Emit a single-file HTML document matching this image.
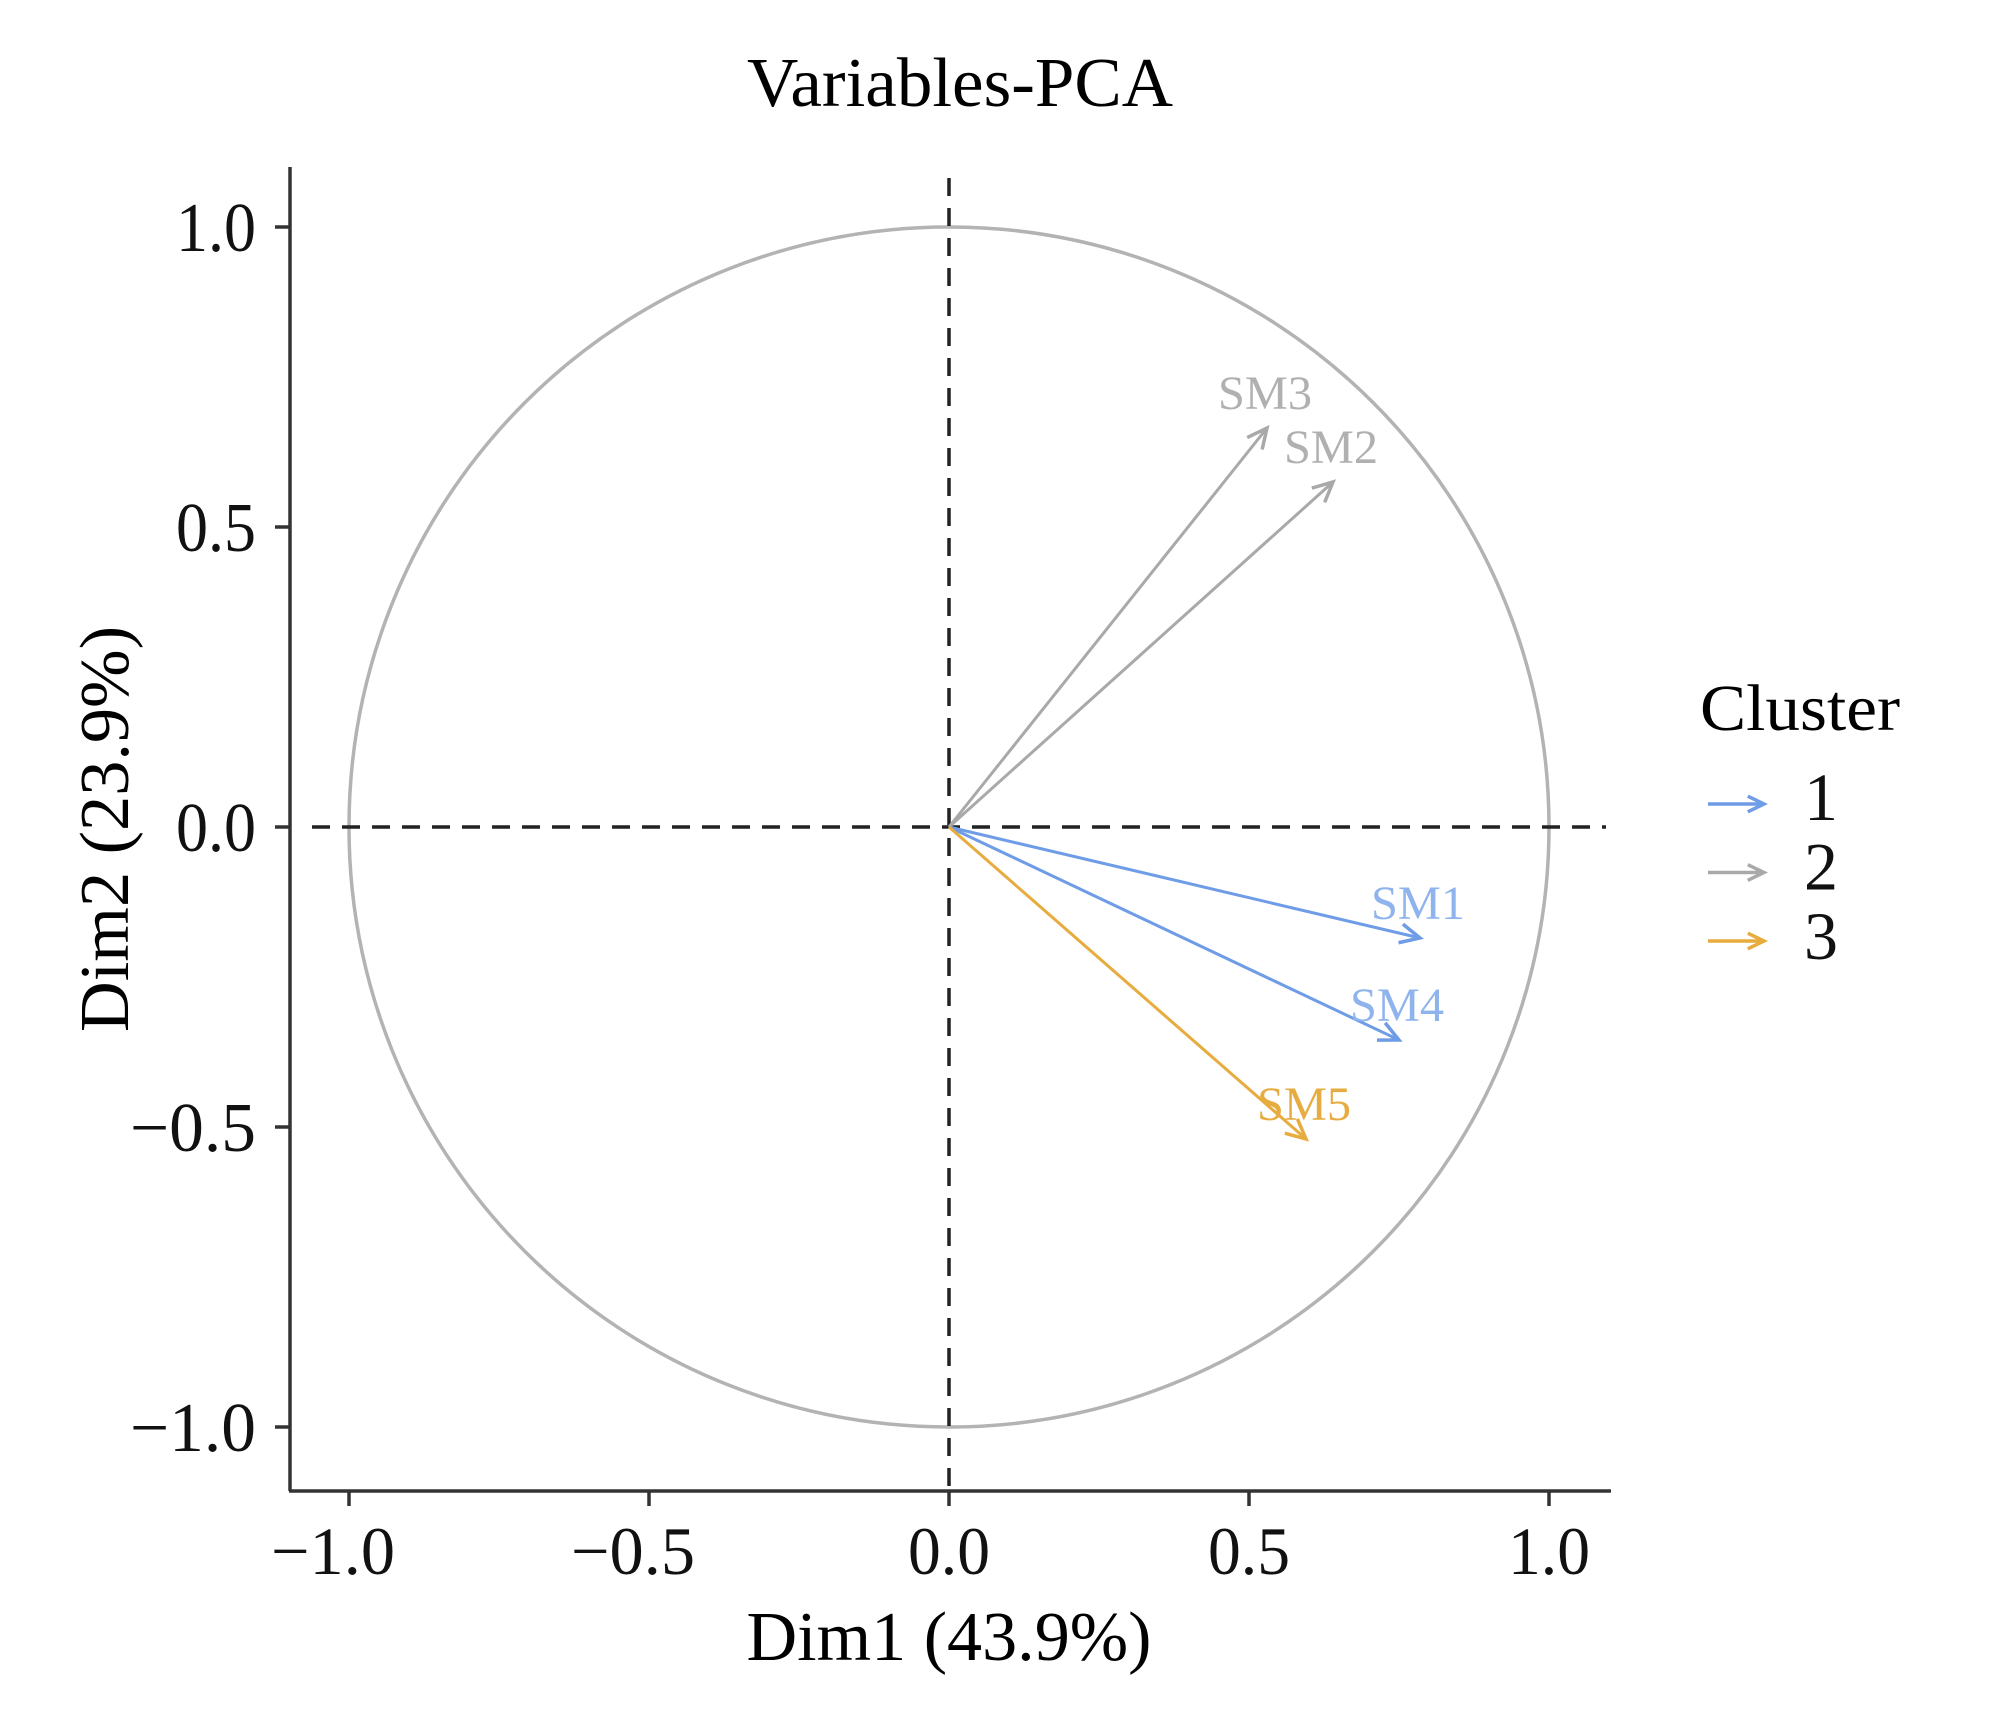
<!DOCTYPE html>
<html><head><meta charset="utf-8"><style>
html,body{margin:0;padding:0;background:#fff;}
svg{display:block;}
text{font-family:"Liberation Serif",serif;}
</style></head><body>
<svg id="chart" width="2000" height="1713" viewBox="0 0 2000 1713" xmlns="http://www.w3.org/2000/svg">
<rect x="0" y="0" width="2000" height="1713" fill="#fff"/>
<text x="960" y="106" font-size="70" text-anchor="middle" textLength="426" lengthAdjust="spacingAndGlyphs">Variables-PCA</text>
<g id="plot"></g>
<text x="949" y="1660" font-size="70" text-anchor="middle" textLength="405" lengthAdjust="spacingAndGlyphs">Dim1 (43.9%)</text>
<text x="0" y="0" font-size="70" text-anchor="middle" textLength="406" lengthAdjust="spacingAndGlyphs" transform="translate(128,829) rotate(-90)">Dim2 (23.9%)</text>
<g>
<text x="1700" y="730" font-size="66" textLength="200" lengthAdjust="spacingAndGlyphs">Cluster</text>
</g>
<g id="legend-items"></g>
</svg>
<script>
const varNames = ["SM1","SM2","SM3","SM4","SM5"];
const dim1 = [0.785, 0.64, 0.53, 0.75, 0.595];
const dim2 = [-0.185, 0.575, 0.665, -0.355, -0.52];
const cluster = [1, 2, 2, 1, 3];
const clusterLabels = ["1","2","3"];
const xTicks = [-1.0, -0.5, 0.0, 0.5, 1.0];
const yTicks = [1.0, 0.5, 0.0, -0.5, -1.0];
const tickText = ["\u22121.0","\u22120.5","0.0","0.5","1.0"];

const NS = "http://www.w3.org/2000/svg";
const X0 = 949, Y0 = 827, U = 600;
const sx = v => X0 + v * U;
const sy = v => Y0 - v * U;
const colors = {1:"#6f9ce6", 2:"#a9a9a9", 3:"#e8ab3e"};
const labelColors = {1:"#8fb3ec", 2:"#b0b0b0", 3:"#e6ac40"};
const plot = document.getElementById("plot");
function mk(tag, attrs, parent){ const e=document.createElementNS(NS,tag); for(const k in attrs) e.setAttribute(k,attrs[k]); (parent||plot).appendChild(e); return e; }

let e = mk("line",{x1:290,y1:167,x2:290,y2:1491,stroke:"#333","stroke-width":3.5});


e = mk("line",{x1:289,y1:1491,x2:1611,y2:1491,stroke:"#333","stroke-width":3.5});



xTicks.forEach((t,i)=>{
  const tk = mk("line",{x1:sx(t),y1:1491,x2:sx(t),y2:1506,stroke:"#333","stroke-width":3.5});
  
  
  const lb = mk("text",{x:sx(t)-(t<0?16:0),y:1574,"font-size":68,"text-anchor":"middle",fill:"#111",textLength:(t<0?124:82),lengthAdjust:"spacingAndGlyphs"});
  lb.textContent = tickText[i];
  
  
});
yTicks.forEach((t)=>{
  const i = xTicks.indexOf(t);
  const tk = mk("line",{x1:275,y1:sy(t),x2:290,y2:sy(t),stroke:"#333","stroke-width":3.5});
  
  
  const lb = mk("text",{x:256,y:sy(t)+24,"font-size":70,"text-anchor":"end",fill:"#111",textLength:(t<0?126:80),lengthAdjust:"spacingAndGlyphs"});
  lb.textContent = tickText[i];
  
  
});

e = mk("circle",{cx:sx(0),cy:sy(0),r:U,fill:"none",stroke:"#b3b3b3","stroke-width":3.5});


e = mk("line",{x1:312,y1:sy(0),x2:1606,y2:sy(0),stroke:"#222","stroke-width":3.5,"stroke-dasharray":"18 12"});


e = mk("line",{x1:sx(0),y1:178,x2:sx(0),y2:1491,stroke:"#222","stroke-width":3.5,"stroke-dasharray":"18 12"});



function arrowHead(x1,y1,x2,y2,col,parent,len){
  const a = Math.atan2(y2-y1,x2-x1);
  const L = len||22, w = 0.45;
  const p = `M${x2-L*Math.cos(a-w)},${y2-L*Math.sin(a-w)} L${x2},${y2} L${x2-L*Math.cos(a+w)},${y2-L*Math.sin(a+w)}`;
  return mk("path",{d:p,fill:"none",stroke:col,"stroke-width":3.5,"stroke-linejoin":"miter"},parent);
}

varNames.forEach((n,i)=>{
  const c = cluster[i];
  const x2 = sx(dim1[i]), y2 = sy(dim2[i]);
  const ln = mk("line",{x1:sx(0),y1:sy(0),x2:x2,y2:y2,stroke:colors[c],"stroke-width":3});
  
  
  const h = arrowHead(sx(0),sy(0),x2,y2,colors[c]);
  
  
  const t = mk("text",{x:x2-2,y:y2-19,"font-size":48,"text-anchor":"middle",fill:labelColors[c],textLength:94,lengthAdjust:"spacingAndGlyphs"});
  t.textContent = n;
  
  
});

const leg = document.getElementById("legend-items");
clusterLabels.forEach((lab,i)=>{
  const c = i+1;
  const y = 804 + i*68.5;
  const ln = mk("line",{x1:1708,y1:y,x2:1764,y2:y,stroke:colors[c],"stroke-width":3.5},leg);
  
  
  const h = arrowHead(1708,y,1764,y,colors[c],leg,18);
  
  
  const t = mk("text",{x:1804,y:y+16+i*1,"font-size":68,fill:"#111"},leg);
  t.textContent = lab;
  
  
});
</script>
</body></html>
